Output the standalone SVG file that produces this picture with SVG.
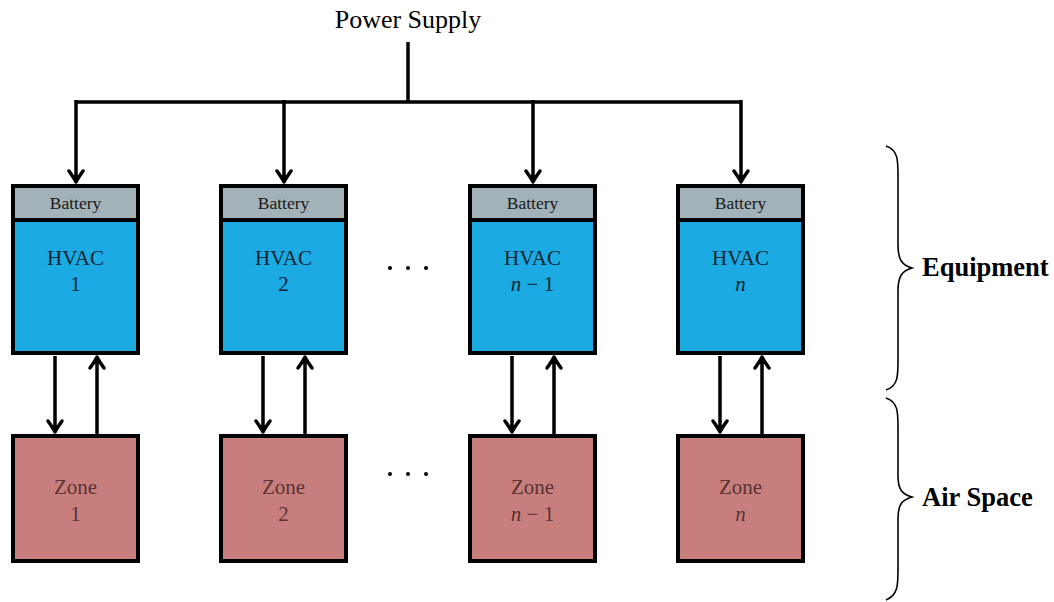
<svg xmlns="http://www.w3.org/2000/svg" width="1054" height="602" viewBox="0 0 1054 602">
<style>
.hv{fill:#1BAAE2;stroke:#000;stroke-width:4}
.bt{fill:#A3B1B8;stroke:#000;stroke-width:4}
.zn{fill:#C97E7E;stroke:#000;stroke-width:4}
.ln{stroke:#000;stroke-width:3.5;fill:none}
.br{stroke:#000;stroke-width:1.6;fill:none}
.t{font-family:"Liberation Serif","DejaVu Serif",serif;text-anchor:middle}
.bat{font-size:17.5px;fill:#1a1a1a}
.ht{font-size:21px;fill:#0a2433}
.zt{font-size:21px;fill:#5a3434}
.m{font-style:italic}
.lab{font-family:"Liberation Serif","DejaVu Serif",serif;font-size:26.5px;font-weight:bold;fill:#000}
</style>
<defs>
<marker id="ah" markerUnits="userSpaceOnUse" markerWidth="24" markerHeight="24" viewBox="-14 -12 16 24" refX="0" refY="0" orient="auto">
<path d="M-11,-7 Q-4,-2 0,0 Q-4,2 -11,7" stroke="#000" stroke-width="3.5" fill="none" stroke-linecap="round" stroke-linejoin="round"/>
<path d="M-7,-3.5 L0,0 L-7,3.5 Z" fill="#000"/>
</marker>
</defs>
<text class="t" x="408" y="28" style="font-size:26px" fill="#000">Power Supply</text>
<g id="connectors">
<path class="ln" d="M408,42 V102 M76,102 H741"/>
<path class="ln" d="M76,100 V182" marker-end="url(#ah)"/>
<path class="ln" d="M284,100 V182" marker-end="url(#ah)"/>
<path class="ln" d="M533,100 V182" marker-end="url(#ah)"/>
<path class="ln" d="M741,100 V182" marker-end="url(#ah)"/>
<path class="ln" d="M55,356 V432" marker-end="url(#ah)"/>
<path class="ln" d="M97,434 V357" marker-end="url(#ah)"/>
<path class="ln" d="M263,356 V432" marker-end="url(#ah)"/>
<path class="ln" d="M305,434 V357" marker-end="url(#ah)"/>
<path class="ln" d="M512,356 V432" marker-end="url(#ah)"/>
<path class="ln" d="M554,434 V357" marker-end="url(#ah)"/>
<path class="ln" d="M720,356 V432" marker-end="url(#ah)"/>
<path class="ln" d="M762,434 V357" marker-end="url(#ah)"/>
</g>
<g id="hvac1">
<rect class="hv" x="13" y="186" width="125" height="167"/>
<rect class="bt" x="13" y="186" width="125" height="34"/>
<text class="t bat" x="75.5" y="209">Battery</text>
<text class="t ht" x="75.5" y="265">HVAC</text>
<text class="t ht" x="75.5" y="291">1</text>
</g>
<g id="hvac2">
<rect class="hv" x="221" y="186" width="125" height="167"/>
<rect class="bt" x="221" y="186" width="125" height="34"/>
<text class="t bat" x="283.5" y="209">Battery</text>
<text class="t ht" x="283.5" y="265">HVAC</text>
<text class="t ht" x="283.5" y="291">2</text>
</g>
<g id="hvac3">
<rect class="hv" x="470" y="186" width="125" height="167"/>
<rect class="bt" x="470" y="186" width="125" height="34"/>
<text class="t bat" x="532.5" y="209">Battery</text>
<text class="t ht" x="532.5" y="265">HVAC</text>
<text class="t ht" x="532.5" y="291"><tspan class="m">n</tspan> − 1</text>
</g>
<g id="hvac4">
<rect class="hv" x="678" y="186" width="125" height="167"/>
<rect class="bt" x="678" y="186" width="125" height="34"/>
<text class="t bat" x="740.5" y="209">Battery</text>
<text class="t ht" x="740.5" y="265">HVAC</text>
<text class="t ht m" x="740.5" y="291">n</text>
</g>
<g id="zone1">
<rect class="zn" x="13" y="436" width="125" height="125"/>
<text class="t zt" x="75.5" y="494">Zone</text>
<text class="t zt" x="75.5" y="521">1</text>
</g>
<g id="zone2">
<rect class="zn" x="221" y="436" width="125" height="125"/>
<text class="t zt" x="283.5" y="494">Zone</text>
<text class="t zt" x="283.5" y="521">2</text>
</g>
<g id="zone3">
<rect class="zn" x="470" y="436" width="125" height="125"/>
<text class="t zt" x="532.5" y="494">Zone</text>
<text class="t zt" x="532.5" y="521"><tspan class="m">n</tspan> − 1</text>
</g>
<g id="zone4">
<rect class="zn" x="678" y="436" width="125" height="125"/>
<text class="t zt" x="740.5" y="494">Zone</text>
<text class="t zt m" x="740.5" y="521">n</text>
</g>
<g id="dots" fill="#000">
<circle cx="390" cy="268" r="2"/><circle cx="408" cy="268" r="2"/><circle cx="426" cy="268" r="2"/>
<circle cx="390" cy="474" r="2"/><circle cx="408" cy="474" r="2"/><circle cx="426" cy="474" r="2"/>
</g>
<g id="brace-equipment">
<path class="br" d="M886,146 C898,150 898,160 898,175 V245 C898,260 902,265 912,268 C902,271 898,276 898,291 V361 C898,376 898,386 886,390"/>
<text class="lab" x="922" y="276">Equipment</text>
</g>
<g id="brace-airspace">
<path class="br" d="M886,398 C898,402 898,412 898,427 V475 C898,490 902,494 912,497 C902,500 898,504 898,519 V570 C898,585 898,595 886,600"/>
<text class="lab" x="922" y="506">Air Space</text>
</g>
</svg>
